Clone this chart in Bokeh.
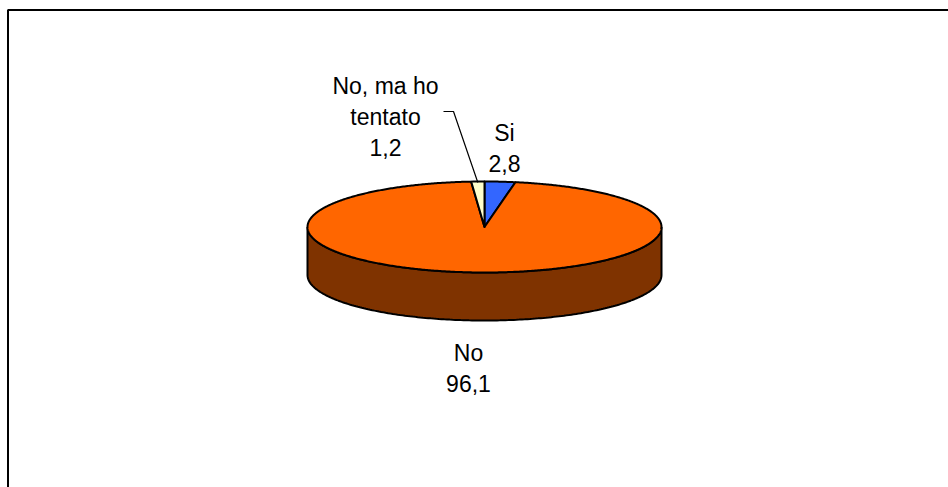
import numpy as np
from bokeh.plotting import figure
from bokeh.models import Range1d
from bokeh.embed import file_html
from bokeh.resources import INLINE
from bokeh.core.properties import value

# ---- data ----
categories = ["Si", "No", "No, ma ho tentato"]
name_lines = [["Si"], ["No"], ["No, ma ho", "tentato"]]
values = [2.8, 96.1, 1.2]
value_labels = ["2,8", "96,1", "1,2"]
colors = ["#3366FF", "#FF6600", "#FFFFCC"]
side_color = "#7F3300"

# ---- layout ----
W, H = 948, 487
CX, CY, RX, RY, DEPTH = 484, 226.5, 177, 45.5, 48
FONT = value("Liberation Sans")
FS = "23px"
LINE_H = 31
# label anchor (center x, baseline y of first line) for each category
label_anchor = [(504, 132), (468, 352), (385, 85)]

p = figure(width=W, height=H, x_range=Range1d(0, W), y_range=Range1d(H, 0),
           output_backend="svg", toolbar_location=None, min_border=0,
           x_axis_location=None, y_axis_location=None)
p.grid.visible = False
p.outline_line_color = None
p.background_fill_color = "white"
p.border_fill_color = "white"

def ell(theta_deg, dy=0.0):
    t = np.radians(theta_deg)
    return CX + RX * np.sin(t), CY - RY * np.cos(t) + dy

# side (front half, visible)
th = np.linspace(90, 270, 200)
xt, yt = ell(th)
xb, yb = ell(th[::-1], DEPTH)
p.patch(np.concatenate([xt, xb]), np.concatenate([yt, yb]),
        fill_color=side_color, line_color="black", line_width=2)

# top wedges
total = sum(values)
start = 0.0
mids = []
for v, c in zip(values, colors):
    span = v / total * 360.0
    a = np.linspace(start, start + span, max(4, int(span * 2)))
    x, y = ell(a)
    p.patch(np.concatenate([[CX], x]), np.concatenate([[CY], y]),
            fill_color=c, line_color="black", line_width=2, line_join="round")
    mids.append(start + span / 2)
    start += span

# leader line for the small slice
lx, ly = ell(mids[2])
p.line([443, 453, lx], [111, 111, ly + 1], line_color="black", line_width=1.2)

# labels
for lines, val, (ax, ay) in zip(name_lines, value_labels, label_anchor):
    all_lines = lines + [val]
    ys = [ay + i * LINE_H for i in range(len(all_lines))]
    p.text(x=[ax] * len(all_lines), y=ys, text=all_lines, text_font=FONT,
           text_font_size=FS, text_align="center", text_baseline="alphabetic",
           text_color="black")

# frame
p.line([7.5, 7.5, W], [H, 9.5, 9.5], line_color="black", line_width=2)

open("out.html", "w").write(file_html(p, INLINE))
